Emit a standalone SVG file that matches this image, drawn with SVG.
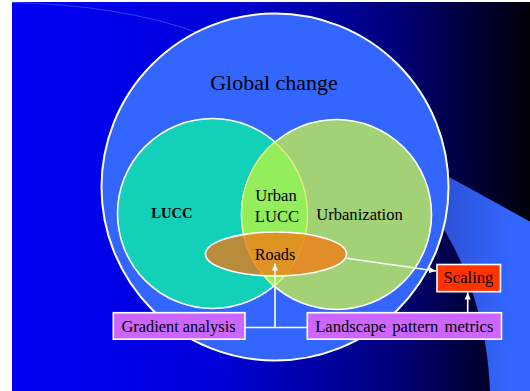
<svg xmlns="http://www.w3.org/2000/svg" width="530" height="391" viewBox="0 0 530 391">
  <defs>
    <linearGradient id="bgGrad" gradientUnits="userSpaceOnUse" x1="12" y1="0" x2="530" y2="0">
      <stop offset="0" stop-color="#0000f6"/>
      <stop offset="0.4" stop-color="#0000da"/>
      <stop offset="0.74" stop-color="#00007a"/>
      <stop offset="1" stop-color="#000008"/>
    </linearGradient>
    <linearGradient id="swooshGrad" gradientUnits="userSpaceOnUse" x1="440" y1="0" x2="510" y2="0">
      <stop offset="0" stop-color="#2c50d4"/>
      <stop offset="1" stop-color="#3366ff"/>
    </linearGradient>
    <marker id="arrow" markerUnits="userSpaceOnUse" markerWidth="8" markerHeight="8" viewBox="0 0 8 8" refX="7" refY="4" orient="auto">
      <path d="M0,1 L7,4 L0,7 Z" fill="#ffffff"/>
    </marker>
    <style>
      .label { font-family: "Liberation Serif", "Times New Roman", serif; fill: #000000; text-anchor: middle; }
      .ring { stroke: #ffffff; stroke-width: 1.6; }
      .box { stroke: #ffffff; stroke-width: 1.6; }
      .link { stroke: #ffffff; stroke-width: 1.6; fill: none; }
    </style>
  </defs>

  <!-- slide background -->
  <rect x="0" y="0" width="530" height="391" fill="#ffffff"/>
  <rect x="12" y="2" width="518" height="389" fill="url(#bgGrad)"/>
  <path d="M12,2.5 Q120,5 196,32" fill="none" stroke="#3a5cf8" stroke-width="1" opacity="0.7"/>
  <path d="M400,150 L530,221.5 L530,391 L490,391 C488,318 462,258 443,228 Z" fill="url(#swooshGrad)"/>

  <g id="global-change">
    <circle cx="275" cy="187" r="173.5" fill="#3366ff" stroke="#ffffff" stroke-width="2"/>
    <text class="label" x="274" y="89.5" font-size="22">Global change</text>
  </g>

  <g id="lucc">
    <circle class="ring" cx="212.5" cy="213.5" r="95" fill="#12d1b8"/>
    <text class="label" x="172" y="218.3" font-size="14.6" font-weight="bold">LUCC</text>
  </g>

  <g id="urbanization">
    <circle class="ring" cx="336.5" cy="214.5" r="95" fill="#a2d275"/>
    <text class="label" x="359.5" y="220" font-size="16.6">Urbanization</text>
  </g>

  <g id="urban-lucc">
    <path d="M274.5,142 A95,95 0 0 1 274.5,286 A95,95 0 0 1 274.5,142 Z" fill="#94ee5b" stroke="#e8f27c" stroke-width="1.3"/>
    <text class="label" x="276" y="200.7" font-size="16.6">Urban</text>
    <text class="label" x="277" y="221.7" font-size="16.6">LUCC</text>
  </g>

  <g id="roads">
    <ellipse cx="276" cy="254" rx="70.5" ry="22" fill="#f9710c" fill-opacity="0.72" stroke="#ffffff" stroke-width="1.6"/>
    <text class="label" x="275" y="259.5" font-size="16.2">Roads</text>
  </g>

  <g id="connectors">
    <line class="link" x1="275" y1="327.5" x2="275" y2="263.5" marker-end="url(#arrow)"/>
    <line class="link" x1="245" y1="327.5" x2="307" y2="327.5"/>
    <line class="link" x1="346.5" y1="258.3" x2="436" y2="271" marker-end="url(#arrow)"/>
    <line class="link" x1="467.7" y1="312.7" x2="467.7" y2="292.5" marker-end="url(#arrow)"/>
  </g>

  <g id="scaling">
    <rect class="box" x="437" y="264.5" width="63.5" height="27.2" fill="#ff3300"/>
    <text class="label" x="468.5" y="283.3" font-size="16.6">Scaling</text>
  </g>

  <g id="gradient-analysis">
    <rect class="box" x="113.3" y="312.7" width="131.7" height="26.5" fill="#cc66ff"/>
    <text class="label" x="178.5" y="331.7" font-size="16.4">Gradient analysis</text>
  </g>

  <g id="landscape-pattern-metrics">
    <rect class="box" x="307.3" y="312.7" width="194.2" height="26.5" fill="#cc66ff"/>
    <text class="label" x="404.3" y="331.7" font-size="16.6" word-spacing="2">Landscape pattern metrics</text>
  </g>
</svg>
